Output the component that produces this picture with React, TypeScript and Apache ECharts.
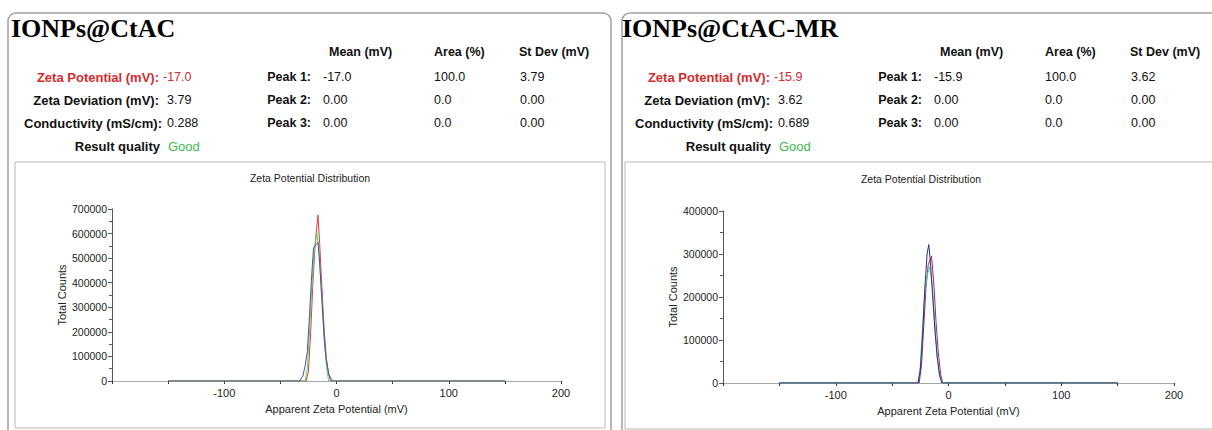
import React, { useEffect, useRef } from "react";
import * as echarts from "echarts";

// ---------- header data ----------
const sampleNames = ["IONPs@CtAC", "IONPs@CtAC-MR"];
const zetaPotential = ["-17.0", "-15.9"];
const zetaDeviation = ["3.79", "3.62"];
const conductivity = ["0.288", "0.689"];
const resultQuality = ["Good", "Good"];
const peakLabels = ["Peak 1:", "Peak 2:", "Peak 3:"];
const peakMeans = [["-17.0", "0.00", "0.00"], ["-15.9", "0.00", "0.00"]];
const peakAreas = [["100.0", "0.0", "0.0"], ["100.0", "0.0", "0.0"]];
const peakStDevs = [["3.79", "0.00", "0.00"], ["3.62", "0.00", "0.00"]];
const columnHeaders = ["Mean (mV)", "Area (%)", "St Dev (mV)"];

// ---------- chart data ----------
const xTicks = [-200, -150, -100, -50, 0, 50, 100, 150, 200];
const yMaxLeft = 700000;
const yMaxRight = 400000;

// left chart (IONPs@CtAC), [mV, counts]
const leftRed: number[][] = [
  [-150, 0], [-27, 0], [-25, 40000], [-23, 200000], [-21, 400000], [-19, 560000],
  [-16.5, 675000], [-15, 560000], [-13, 380000], [-11, 210000], [-9, 90000],
  [-7, 25000], [-5, 0], [150, 0],
];
const leftGreen: number[][] = [
  [-150, 0], [-28, 0], [-26, 50000], [-24, 200000], [-22, 380000], [-20, 520000],
  [-17.5, 605000], [-15.5, 520000], [-13, 330000], [-11, 170000], [-9, 60000],
  [-7, 0], [150, 0],
];
const leftBlue: number[][] = [
  [-150, 0], [-33, 0], [-30, 20000], [-28, 60000], [-26, 120000], [-24, 270000],
  [-22.5, 400000], [-20.5, 540000], [-18.5, 555000], [-16.5, 565000], [-15, 480000],
  [-13, 330000], [-11, 180000], [-9.5, 100000], [-7, 30000], [-4, 0], [150, 0],
];

// right chart (IONPs@CtAC-MR)
const rightRed: number[][] = [
  [-150, 0], [-26, 0], [-24, 40000], [-22, 130000], [-20, 220000], [-18, 275000],
  [-15, 295000], [-13, 230000], [-11, 140000], [-9, 70000], [-7, 20000], [-5, 0], [150, 0],
];
const rightGreen: number[][] = [
  [-150, 0], [-27, 0], [-25, 40000], [-23, 130000], [-21, 210000], [-19, 250000],
  [-16.5, 270000], [-14.5, 230000], [-12, 140000], [-10, 60000], [-8, 15000], [-5, 0], [150, 0],
];
const rightBlue: number[][] = [
  [-150, 0], [-27, 0], [-25, 30000], [-23, 110000], [-21, 220000], [-19, 300000],
  [-17.5, 322000], [-16, 280000], [-14, 200000], [-12, 120000], [-10, 60000],
  [-8, 20000], [-6, 0], [150, 0],
];

const SANS = "'Liberation Sans', Arial, sans-serif";
const SERIF = "'Liberation Serif', 'Times New Roman', serif";

function header(idx: number, ox: number): any[] {
  const els: any[] = [];
  const red = "#d42b2b";
  const green = "#3dbb4f";
  const dark = "#111";
  const txt = (x: number, y: number, text: string, opts: any = {}) => ({
    type: "text",
    x: x + ox,
    y,
    style: {
      text,
      fontFamily: SANS,
      fontSize: opts.size || 12.5,
      fontWeight: opts.bold ? "bold" : "normal",
      fill: opts.color || dark,
      align: opts.align || "left",
      verticalAlign: "middle",
    },
  });
  els.push({
    type: "text",
    x: 11 + ox,
    y: 28,
    style: {
      text: sampleNames[idx],
      fontFamily: SERIF,
      fontSize: 26,
      fontWeight: "bold",
      fill: "#000",
      verticalAlign: "middle",
    },
  });
  const colX = [329, 434, 519];
  columnHeaders.forEach((h, i) => els.push(txt(colX[i], 52, h, { bold: true })));
  const rowY = [77, 100, 123];
  const ls = 13;
  els.push(txt(159, rowY[0], "Zeta Potential (mV):", { bold: true, align: "right", color: red, size: ls }));
  els.push(txt(163, rowY[0], zetaPotential[idx], { color: red }));
  els.push(txt(159, rowY[1], "Zeta Deviation (mV):", { bold: true, align: "right", size: ls }));
  els.push(txt(167, rowY[1], zetaDeviation[idx]));
  els.push(txt(162, rowY[2], "Conductivity (mS/cm):", { bold: true, align: "right", size: ls }));
  els.push(txt(167, rowY[2], conductivity[idx]));
  els.push(txt(160, 146, "Result quality", { bold: true, align: "right", size: ls }));
  els.push(txt(168, 146, resultQuality[idx], { color: green, size: 13 }));
  peakLabels.forEach((p, i) => {
    els.push(txt(311, rowY[i], p, { bold: true, align: "right" }));
    els.push(txt(323, rowY[i], peakMeans[idx][i]));
    els.push(txt(434, rowY[i], peakAreas[idx][i]));
    els.push(txt(520, rowY[i], peakStDevs[idx][i]));
  });
  return els;
}

function xAxisCfg(gridIndex: number) {
  return {
    type: "value",
    gridIndex,
    min: -200,
    max: 200,
    interval: 50,
    name: "Apparent Zeta Potential (mV)",
    nameLocation: "middle",
    nameGap: 22,
    nameTextStyle: { fontFamily: SANS, fontSize: 11, color: "#222" },
    axisLine: { show: true, onZero: false, lineStyle: { color: "#a8a8a8", width: 1 } },
    axisTick: { show: true, length: 3, lineStyle: { color: "#333" } },
    axisLabel: {
      fontFamily: SANS,
      fontSize: 11,
      color: "#222",
      margin: 6,
      formatter: (v: number) => (v % 100 === 0 && v !== xTicks[0] ? String(v) : ""),
    },
    splitLine: { show: false },
  };
}

function yAxisCfg(gridIndex: number, max: number) {
  return {
    type: "value",
    gridIndex,
    min: 0,
    max,
    interval: 100000,
    name: "Total Counts",
    nameLocation: "middle",
    nameGap: 45,
    nameTextStyle: { fontFamily: SANS, fontSize: 11, color: "#222" },
    axisLine: { show: true, onZero: false, lineStyle: { color: "#555", width: 1 } },
    axisTick: { show: true, length: 4, lineStyle: { color: "#555" } },
    minorTick: { show: true, splitNumber: 2, length: 3, lineStyle: { color: "#555" } },
    axisLabel: {
      fontFamily: SANS,
      fontSize: 10.5,
      color: "#222",
      margin: 5,
      formatter: (v: number) => String(v),
    },
    splitLine: { show: false },
  };
}

function lineSeries(data: number[][], color: string, idx: number) {
  return {
    type: "line",
    xAxisIndex: idx,
    yAxisIndex: idx,
    data,
    showSymbol: false,
    symbol: "none",
    lineStyle: { color, width: 1 },
    itemStyle: { color },
  };
}

export default function App() {
  const ref = useRef<HTMLDivElement>(null);
  useEffect(() => {
    if (!ref.current) return;
    const chart = echarts.init(ref.current, null, { renderer: "svg" });
    const chartTitle = (x: number, y: number) => ({
      type: "text",
      x,
      y,
      style: {
        text: "Zeta Potential Distribution",
        fontFamily: SANS,
        fontSize: 10.5,
        fill: "#222",
        align: "center",
        verticalAlign: "middle",
      },
    });
    const panelGraphics: any[] = [
      {
        type: "rect",
        shape: { x: 8, y: 13, width: 603, height: 440, r: 8 },
        style: { fill: "none", stroke: "#a0a0a0", lineWidth: 1.5 },
      },
      {
        type: "rect",
        shape: { x: 622, y: 13, width: 620, height: 440, r: 8 },
        style: { fill: "none", stroke: "#a0a0a0", lineWidth: 1.5 },
      },
      {
        type: "rect",
        shape: { x: 15, y: 162, width: 590, height: 266 },
        style: { fill: "none", stroke: "#b8b8b8", lineWidth: 1 },
      },
      {
        type: "rect",
        shape: { x: 625, y: 162, width: 620, height: 267 },
        style: { fill: "none", stroke: "#b8b8b8", lineWidth: 1 },
      },
      chartTitle(310, 178),
      chartTitle(921, 179),
      ...header(0, 0),
      ...header(1, 611),
    ];
    chart.setOption({
      animation: false,
      backgroundColor: "#fff",
      graphic: { elements: panelGraphics },
      grid: [
        { left: 112, top: 209, width: 449, height: 172 },
        { left: 723, top: 211, width: 451, height: 172 },
      ],
      xAxis: [xAxisCfg(0), xAxisCfg(1)],
      yAxis: [yAxisCfg(0, yMaxLeft), yAxisCfg(1, yMaxRight)],
      series: [
        lineSeries(leftRed, "#e23a3a", 0),
        lineSeries(leftGreen, "#4fdc6a", 0),
        lineSeries(leftBlue, "#5050a8", 0),
        lineSeries(rightRed, "#b0206a", 1),
        lineSeries(rightGreen, "#3ddc80", 1),
        lineSeries(rightBlue, "#24308a", 1),
      ],
    });
    return () => chart.dispose();
  }, []);
  return (
    <div
      ref={ref}
      style={{ position: "absolute", left: 0, top: 0, width: 1212, height: 430, background: "#fff" }}
    />
  );
}
